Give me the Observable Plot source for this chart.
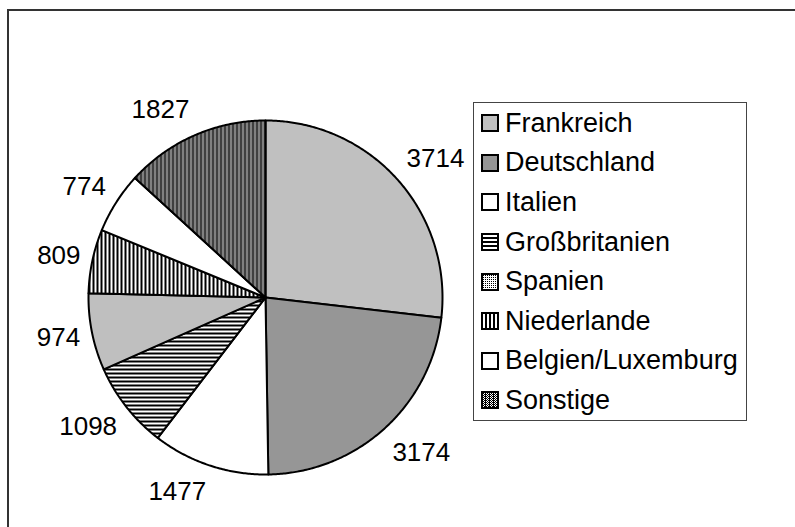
<!DOCTYPE html>
<html>
<head>
<meta charset="utf-8">
<script src="https://cdn.jsdelivr.net/npm/d3@7"></script>
<script src="https://cdn.jsdelivr.net/npm/@observablehq/plot@0.6"></script>
<style>
  html, body { margin: 0; padding: 0; background: #fff; overflow: hidden; }
  #wrap { position: relative; width: 795px; height: 527px; overflow: hidden; font-family: "Liberation Sans", Arial, sans-serif; }
  #frame { position: absolute; left: 7px; top: 9px; width: 900px; height: 900px; border: 2px solid #333; box-sizing: border-box; pointer-events: none; }
  #chart { position: absolute; left: 0; top: 0; }
  #legend { position: absolute; left: 473px; top: 102px; width: 274px; height: 319px; border: 1px solid #444; box-sizing: border-box; background: #fff; }
  .row { position: absolute; left: 0; height: 39.6px; display: flex; align-items: center; }
  .row svg { margin-left: 7px; }
  .row span { margin-left: 6px; font-size: 27px; color: #000; white-space: nowrap; }
</style>
</head>
<body>
<svg width="0" height="0" style="position:absolute">
  <defs>
    <pattern id="pG" patternUnits="userSpaceOnUse" width="4" height="4">
      <rect width="4" height="4" fill="#fff"/><rect width="4" height="2" fill="#000"/>
    </pattern>
    <pattern id="pS" patternUnits="userSpaceOnUse" width="2" height="2">
      <rect width="2" height="2" fill="#fff"/><rect width="1" height="1" fill="#000"/>
    </pattern>
    <pattern id="pN" patternUnits="userSpaceOnUse" width="4" height="4">
      <rect width="4" height="4" fill="#fff"/><rect width="2" height="4" fill="#000"/>
    </pattern>
    <pattern id="pO" patternUnits="userSpaceOnUse" width="4" height="2">
      <rect width="4" height="2" fill="#000"/>
      <rect x="1" y="0" width="1" height="1" fill="#fff"/>
      <rect x="3" y="0" width="1" height="1" fill="#fff"/>
      <rect x="2" y="1" width="1" height="1" fill="#fff"/>
    </pattern>
  </defs>
</svg>
<div id="wrap">
  <div id="chart"></div>
  <div id="legend"></div>
  <div id="frame"></div>
</div>
<script>
// ---- data ----
const categories = ["Frankreich", "Deutschland", "Italien", "Großbritanien", "Spanien", "Niederlande", "Belgien/Luxemburg", "Sonstige"];
const values = [3714, 3174, 1477, 1098, 974, 809, 774, 1827];

// ---- styles / layout ----
const sliceFills = ["#c0c0c0", "#969696", "#ffffff", "url(#pG)", "url(#pS)", "url(#pN)", "#ffffff", "url(#pO)"];
const W = 795, H = 527, cx = 265, cy = 297, R = 177;
const fontSize = 26, labelGap = 12, boxH = 30;

const arcs = d3.pie().sort(null).value(d => d)(values);

const marks = [];
arcs.forEach((a, i) => {
  const n = Math.max(2, Math.ceil((a.endAngle - a.startAngle) / (Math.PI / 360)));
  const pts = [{x: 0, y: 0}];
  for (let k = 0; k <= n; k++) {
    const t = a.startAngle + (a.endAngle - a.startAngle) * k / n;
    pts.push({x: Math.sin(t), y: Math.cos(t)});
  }
  marks.push(Plot.line(pts, {x: "x", y: "y", curve: "linear-closed", fill: sliceFills[i], stroke: "#000", strokeWidth: 2, strokeLinejoin: "round"}));
});

// labels: outside end, box edge attached to the point just outside the arc at mid-angle
const labels = arcs.map((a, i) => {
  const m = (a.startAngle + a.endAngle) / 2;
  const dx = Math.sin(m), dy = Math.cos(m);
  const txt = String(values[i]);
  const w = 0.556 * fontSize * txt.length;
  const px = dx * (R + labelGap), py = dy * (R + labelGap); // pixels, y up
  const sq = Math.max(Math.abs(dx), Math.abs(dy));
  const ox = Math.sign(dx) * w / 2;
  const oy = (dy / sq) * boxH / 2;
  return {x: (px + ox) / R, y: (py + oy) / R, text: txt};
});
marks.push(Plot.text(labels, {x: "x", y: "y", text: "text", fontSize, fill: "#000", textAnchor: "middle", lineAnchor: "middle", fontFamily: "Liberation Sans, Arial, sans-serif"}));

const plot = Plot.plot({
  width: W, height: H,
  marginTop: 0, marginRight: 0, marginBottom: 0, marginLeft: 0,
  x: {domain: [-cx / R, (W - cx) / R], axis: null},
  y: {domain: [-(H - cy) / R, cy / R], axis: null},
  style: {background: "transparent", overflow: "visible"},
  marks
});
document.getElementById("chart").appendChild(plot);

// ---- legend ----
const legend = document.getElementById("legend");
categories.forEach((c, i) => {
  const row = document.createElement("div");
  row.className = "row";
  row.style.top = (0.5 + i * 39.6) + "px";
  row.innerHTML = `<svg width="18" height="18"><rect x="1" y="1" width="16" height="16" fill="${sliceFills[i]}" stroke="#000" stroke-width="2"/></svg><span>${c}</span>`;
  legend.appendChild(row);
});
</script>
</body>
</html>
